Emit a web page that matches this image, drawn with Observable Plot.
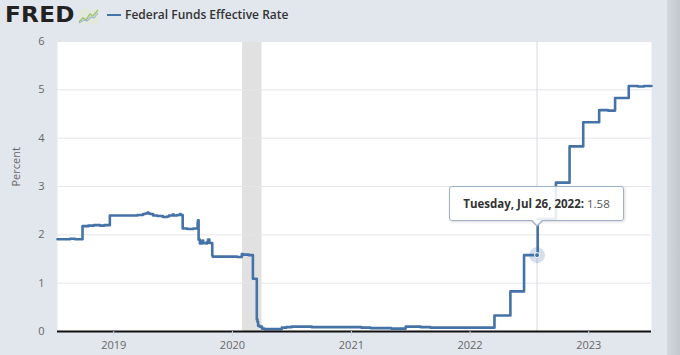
<!DOCTYPE html>
<html><head><meta charset="utf-8">
<script src="https://cdn.jsdelivr.net/npm/d3@7"></script>
<script src="https://cdn.jsdelivr.net/npm/@observablehq/plot@0.6"></script>
<style>
html,body{margin:0;padding:0;background:#e2e6ed;width:680px;height:355px;overflow:hidden;font-family:"Open Sans",sans-serif;}
#wrap{position:relative;width:680px;height:355px;}
#header{height:34px;position:relative;}
#logo{position:absolute;left:5px;top:0px;font-family:"DejaVu Sans",sans-serif;font-weight:bold;font-size:21px;letter-spacing:0.3px;color:#222;line-height:31px;transform:scaleX(1.1);transform-origin:left center;}
#icon{position:absolute;left:78px;top:9px;}
#legline{position:absolute;left:107px;top:14px;width:14px;height:2px;background:#4572a7;}
#legtext{position:absolute;left:125px;top:6px;font-size:12px;font-weight:600;color:#333;line-height:18px;}
#scroll{position:absolute;left:667px;top:0;width:13px;height:355px;background:linear-gradient(to right,#d3d8df,#c3c8cf);}
#tip{position:absolute;box-sizing:border-box;width:175px;height:35px;background:rgba(255,255,255,0.88);border:1px solid #9fb0c8;border-radius:3px;box-shadow:1px 1px 3px rgba(0,0,0,0.15);font-size:11.5px;color:#333;line-height:33px;text-align:center;white-space:nowrap;}
#tip b{font-weight:700;color:#333;}
#tip span{color:#555;}
.arrow{position:absolute;width:0;height:0;border-left:6px solid transparent;border-right:6px solid transparent;}
</style>
</head><body>
<div id="wrap">
  <div id="header">
    <div id="logo">FRED</div>
    <svg id="icon" width="21" height="15" viewBox="0 0 21 15">
      <rect x="0" y="0" width="21" height="15" fill="#e3e8dc" rx="1"/>
      <polyline points="1,13 5,9 8,11 12,5 15,7 20,1" fill="none" stroke="#9cc46e" stroke-width="1.4"/>
      <polyline points="1,14 6,11 9,12 13,8 16,9 20,4" fill="none" stroke="#9ab7d6" stroke-width="1.1"/>
    </svg>
    <div id="legline"></div>
    <div id="legtext">Federal Funds Effective Rate</div>
  </div>
  <div id="chart"></div>
  <div id="scroll"></div>
</div>
<script>
// Federal Funds Effective Rate (percent), change points
const dates = [
 "2018-07-12","2018-08-01","2018-08-20","2018-09-04","2018-09-27","2018-10-15","2018-11-01","2018-11-20","2018-12-03","2018-12-20",
 "2019-01-02","2019-02-01","2019-03-01","2019-03-15","2019-04-01","2019-04-08","2019-04-15","2019-04-18","2019-04-23","2019-05-02",
 "2019-05-15","2019-06-01","2019-06-14","2019-06-20","2019-07-01","2019-07-05","2019-07-15","2019-07-24","2019-07-26","2019-08-01",
 "2019-08-15","2019-09-03","2019-09-16","2019-09-17","2019-09-19","2019-09-23","2019-10-01","2019-10-03","2019-10-10","2019-10-15",
 "2019-10-18","2019-10-22","2019-10-31","2019-11-01","2019-12-02","2019-12-31","2020-01-15","2020-01-30","2020-02-03","2020-02-20",
 "2020-03-04","2020-03-16","2020-03-18","2020-03-20","2020-03-25","2020-04-01","2020-04-08","2020-05-01","2020-06-01","2020-06-15",
 "2020-07-01","2020-08-03","2020-09-01","2020-10-01","2020-11-02","2020-12-01","2021-01-04","2021-02-01","2021-03-01","2021-04-01",
 "2021-05-03","2021-06-17","2021-07-01","2021-08-02","2021-09-01","2021-10-01","2021-11-01","2021-12-01","2022-01-03","2022-03-17",
 "2022-05-05","2022-06-16","2022-07-28","2022-09-22","2022-11-03","2022-12-15","2023-01-03","2023-02-02","2023-03-01","2023-03-23",
 "2023-05-04","2023-06-01","2023-06-20","2023-07-13"
];
const rates = [
 1.91,1.91,1.92,1.91,2.18,2.19,2.20,2.19,2.20,2.40,
 2.40,2.40,2.40,2.41,2.43,2.44,2.46,2.44,2.43,2.40,
 2.39,2.37,2.38,2.40,2.42,2.40,2.41,2.43,2.41,2.13,
 2.12,2.13,2.25,2.30,1.90,1.82,1.88,1.83,1.82,1.85,
 1.90,1.83,1.58,1.55,1.55,1.55,1.54,1.60,1.59,1.58,
 1.09,0.25,0.20,0.12,0.10,0.06,0.05,0.05,0.08,0.09,
 0.10,0.10,0.09,0.09,0.09,0.09,0.09,0.08,0.07,0.07,
 0.06,0.10,0.10,0.09,0.08,0.08,0.08,0.08,0.08,0.33,
 0.83,1.58,2.33,3.08,3.83,4.33,4.33,4.58,4.57,4.83,
 5.08,5.07,5.08,5.08
];
const xDomainDates = ["2018-07-12","2023-07-13"];
const yTicks = [0,1,2,3,4,5,6];
const yearLabels = ["2019","2020","2021","2022","2023"];
const recessionStart = ["2020-02-01"];
const recessionEnd = ["2020-04-01"];
const tipDate = "2022-07-26";
const tipValue = 1.58;
const tipLabel = "Tuesday, Jul 26, 2022:";
const seriesName = "Federal Funds Effective Rate";
const yLabel = "Percent";

const data = dates.map((d, i) => ({date: new Date(d), rate: rates[i]}));
const recession = recessionStart.map((s, i) => ({start: new Date(s), end: new Date(recessionEnd[i])}));
const tip = [{date: new Date(tipDate), rate: tipValue}];
const yearTicks = yearLabels.map(y => new Date(y + "-01-01"));

const chart = Plot.plot({
  width: 680, height: 321,
  marginTop: 7, marginBottom: 24, marginLeft: 57, marginRight: 29,
  style: {background: "transparent", fontFamily: "Open Sans, sans-serif", fontSize: "11px", color: "#666", overflow: "visible"},
  x: {type: "utc", domain: xDomainDates.map(d => new Date(d))},
  y: {domain: [0, 6]},
  marks: [
    Plot.frame({fill: "white", stroke: null}),
    Plot.rectX(recession, {x1: "start", x2: "end", fill: "#e1e1e1"}),
    Plot.gridY({ticks: yTicks.slice(1), stroke: "#e6e6e6", strokeOpacity: 1}),
    Plot.ruleX(tip, {x: "date", stroke: "#d3d9e3", strokeWidth: 1}),
    Plot.line(data, {x: "date", y: "rate", curve: "step-after", stroke: "#4572a7", strokeWidth: 2.6}),
    Plot.ruleY([0], {stroke: "#111", strokeWidth: 2}),
    Plot.axisY({ticks: yTicks, tickSize: 0, tickPadding: 13, label: null, tickFormat: d => String(d), fill: "#666"}),
    Plot.axisX({ticks: yearTicks, tickFormat: d => String(d.getUTCFullYear()), tickSize: 5, tickPadding: 5, label: null, stroke: "#ccd6eb", fill: "#666"}),
    Plot.text([yLabel], {frameAnchor: "left", dx: -41, rotate: -90, fill: "#666", fontSize: 11}),
    Plot.dot(tip, {x: "date", y: "rate", r: 8, fill: "#4572a7", fillOpacity: 0.22, stroke: null}),
    Plot.dot(tip, {x: "date", y: "rate", r: 2.5, fill: "#4572a7", stroke: "white", strokeWidth: 1})
  ]
});
document.getElementById("chart").appendChild(chart);

// tooltip positioned from the chart's own scales
const wrap = document.getElementById("wrap");
const headerH = document.getElementById("header").offsetHeight;
const px = chart.scale("x").apply(tip[0].date);
const py = chart.scale("y").apply(tipValue) + headerH;
const box = document.createElement("div");
box.id = "tip";
box.innerHTML = "<b>" + tipLabel + "</b> <span>" + tipValue.toFixed(2) + "</span>";
box.style.left = (px - 87.5) + "px";
box.style.top = (py - 69) + "px";
wrap.appendChild(box);
const arrOuter = document.createElement("div");
arrOuter.className = "arrow";
arrOuter.style.borderTop = "6px solid #9fb0c8";
arrOuter.style.left = (px - 6) + "px";
arrOuter.style.top = (py - 34) + "px";
wrap.appendChild(arrOuter);
const arrInner = document.createElement("div");
arrInner.className = "arrow";
arrInner.style.borderLeft = "5px solid transparent";
arrInner.style.borderRight = "5px solid transparent";
arrInner.style.borderTop = "5px solid rgba(255,255,255,0.95)";
arrInner.style.left = (px - 5) + "px";
arrInner.style.top = (py - 35) + "px";
wrap.appendChild(arrInner);
</script>
</body></html>
